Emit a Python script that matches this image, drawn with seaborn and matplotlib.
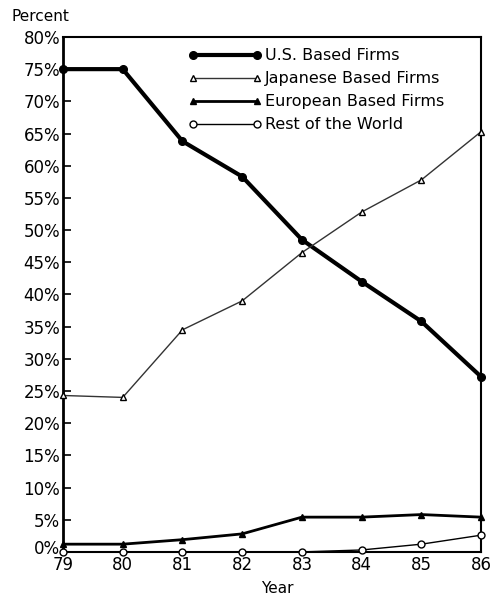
import matplotlib
matplotlib.use("Agg")
import matplotlib.pyplot as plt
import matplotlib.transforms as mtransforms
import seaborn as sns
import pandas as pd

years = [79, 80, 81, 82, 83, 84, 85, 86]
us_firms = [75.0, 75.0, 63.8, 58.3, 48.5, 42.0, 35.8, 27.2]
japanese_firms = [24.3, 24.0, 34.5, 39.0, 46.5, 52.8, 57.8, 65.3]
european_firms = [1.2, 1.2, 1.9, 2.8, 5.4, 5.4, 5.8, 5.4]
rest_of_world = [0.0, 0.0, 0.0, 0.0, 0.0, 0.3, 1.2, 2.6]
series_names = ["U.S. Based Firms", "Japanese Based Firms",
                "European Based Firms", "Rest of the World"]
y_ticks = list(range(0, 85, 5))
y_tick_labels = [f"{v}%" for v in y_ticks]

sns.set_theme(style="white")
plt.rcParams['font.family'] = ['DejaVu Sans']
plt.rcParams['text.color'] = 'black'
plt.rcParams['xtick.color'] = 'black'
plt.rcParams['ytick.color'] = 'black'

fig = plt.figure(figsize=(4.92, 5.96), dpi=100)
ax = fig.add_axes([0.128, 0.074, 0.850, 0.864])

styles = [
    dict(marker="o", lw=3.0, ms=5.5, mfc="black", color="black"),
    dict(marker="^", lw=1.0, ms=4.5, mfc="white", color="#333333"),
    dict(marker="^", lw=2.0, ms=5, mfc="black", color="black"),
    dict(marker="o", lw=1.0, ms=5, mfc="white", color="black"),
]
values = [us_firms, japanese_firms, european_firms, rest_of_world]

for name, vals, st in zip(series_names, values, styles):
    df = pd.DataFrame({"Year": years, "Percent": vals})
    sns.lineplot(data=df, x="Year", y="Percent", ax=ax, label=name,
                 color=st["color"], linewidth=st["lw"], marker=st["marker"],
                 markersize=st["ms"], markerfacecolor=st["mfc"],
                 markeredgecolor="black", markeredgewidth=1.0,
                 clip_on=False, zorder=3)

ax.set_xlim(79, 86)
ax.set_ylim(0, 80)
ax.set_xticks(years)
ax.set_xticklabels([str(y) for y in years], fontsize=12, color="black")
ax.set_yticks(y_ticks)
ax.set_yticklabels(y_tick_labels, fontsize=12, color="black")
ax.tick_params(axis="y", direction="in", length=6, width=1.2, color="black", pad=2, left=True)
ax.tick_params(axis="x", direction="in", length=0, pad=3)
for s in ax.spines.values():
    s.set_visible(True)
    s.set_color("black")
    s.set_linewidth(1.5)
ax.spines["left"].set_linewidth(2.0)

# raise the 0% label slightly, as in the original
zero_lbl = ax.get_yticklabels()[0]
zero_lbl.set_transform(zero_lbl.get_transform() +
                       mtransforms.ScaledTranslation(0, 5 / 100, fig.dpi_scale_trans))

ax.set_xlabel("")
ax.set_ylabel("")
fig.text(0.024, 0.972, "Percent", fontsize=11, ha="left", va="center", color="black")
fig.text(0.563, 0.013, "Year", fontsize=11, ha="center", va="center", color="black")

leg = ax.legend(loc="upper left", bbox_to_anchor=(0.285, 0.99), frameon=False,
                fontsize=11.5, handlelength=4.6, handletextpad=0.2, numpoints=2,
                labelspacing=0.5, borderaxespad=0.0)
for t in leg.get_texts():
    t.set_color("black")

fig.savefig("out.png", dpi=100)
